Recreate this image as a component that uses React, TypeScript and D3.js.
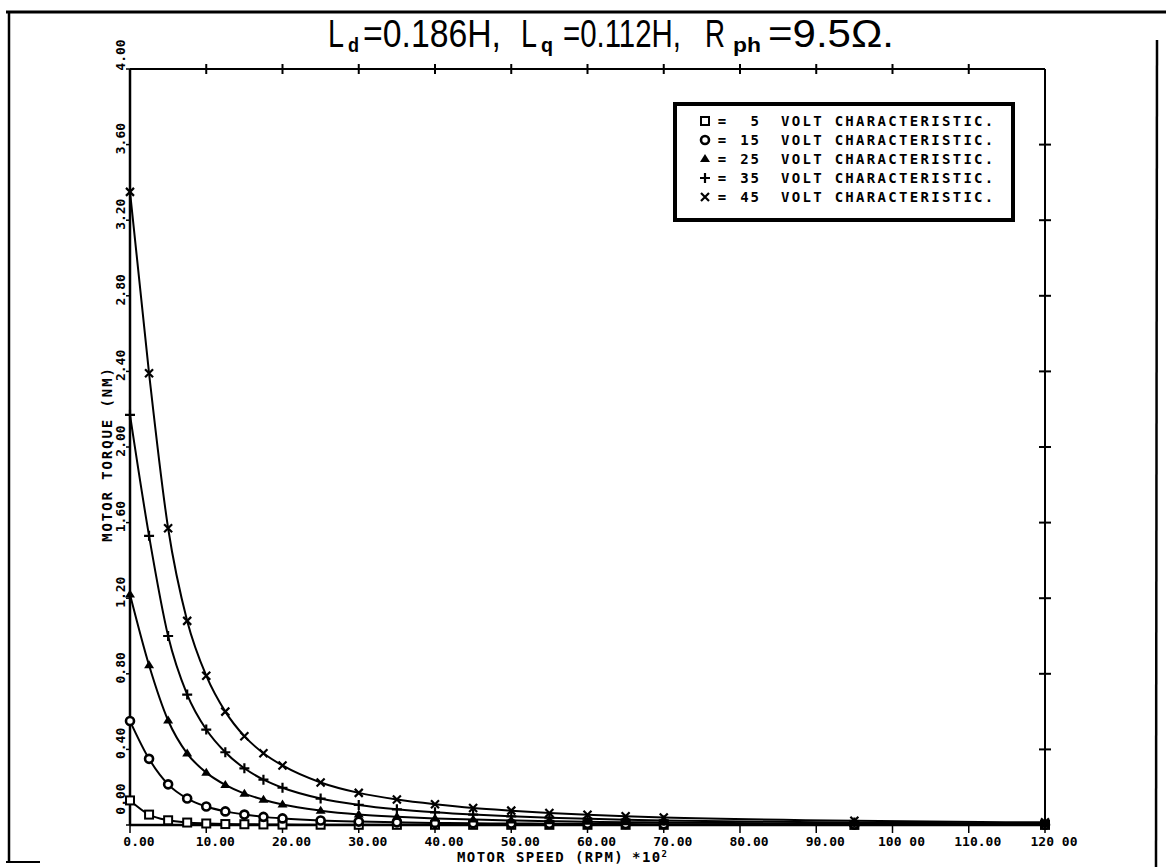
import React from "react";
import * as d3 from "d3";

// motor speed (RPM x 10^2) at each plotted point
const speeds = [0, 2.5, 5, 7.5, 10, 12.5, 15, 17.5, 20, 25, 30, 35, 40, 45, 50, 55, 60, 65, 70, 95, 120];

// motor torque (NM), one array per supply voltage
const torque5V = [0.13, 0.055, 0.025, 0.013, 0.008, 0.005, 0.004, 0.003, 0.002, 0.0015, 0.001, 0.001, 0.001, 0.001, 0.001, 0.001, 0.001, 0.001, 0.001, 0.0005, 0.0005];
const torque15V = [0.55, 0.35, 0.215, 0.14, 0.098, 0.072, 0.055, 0.043, 0.035, 0.024, 0.018, 0.014, 0.011, 0.009, 0.008, 0.007, 0.006, 0.005, 0.004, 0.002, 0.001];
const torque25V = [1.22, 0.845, 0.553, 0.378, 0.277, 0.212, 0.166, 0.134, 0.108, 0.076, 0.056, 0.044, 0.035, 0.029, 0.024, 0.02, 0.017, 0.015, 0.013, 0.007, 0.005];
const torque35V = [2.17, 1.53, 1.0, 0.69, 0.505, 0.385, 0.3, 0.24, 0.197, 0.14, 0.106, 0.083, 0.067, 0.055, 0.046, 0.039, 0.033, 0.028, 0.024, 0.013, 0.008];
const torque45V = [3.35, 2.39, 1.57, 1.08, 0.79, 0.6, 0.47, 0.38, 0.315, 0.225, 0.17, 0.135, 0.11, 0.09, 0.076, 0.064, 0.054, 0.046, 0.04, 0.022, 0.014];

const voltages = ["5", "15", "25", "35", "45"];
const symbols = ["square", "circle", "triangle", "plus", "cross"];

const xTicks = [0, 10, 20, 30, 40, 50, 60, 70, 80, 90, 100, 110, 120];
const xTickLabels = ["0.00", "10.00", "20.00", "30.00", "40.00", "50.00", "60.00", "70.00", "80.00", "90.00", "100 00", "110.00", "120 00"];
const yTicks = [0, 0.4, 0.8, 1.2, 1.6, 2.0, 2.4, 2.8, 3.2, 3.6, 4.0];

const W = 1166;
const H = 867;
const left = 130, right = 1045, top = 69, bottom = 825;
const plotFont = "'DejaVu Sans Mono', monospace";
const titleFont = "'Liberation Sans', Arial, sans-serif";

// title pieces: [text, x start, width, subscript?, horizontal squeeze]
const titleParts: [string, number, number, boolean, number][] = [
  ["L", 328, 16, false, 0.76],
  ["d", 348, 11, true, 1],
  ["=0.186H,", 363, 138, false, 0.9],
  ["L", 521, 16, false, 0.76],
  ["q", 541, 12, true, 1],
  ["=0.112H,", 563, 118, false, 0.76],
  ["R", 705, 20, false, 0.74],
  ["ph", 733, 28, true, 1],
  ["=9.5Ω.", 768, 126, false, 1],
];

function Marker({ kind, x, y }: { kind: string; x: number; y: number }) {
  const s = 4;
  if (kind === "square")
    return <rect x={x - s} y={y - s} width={2 * s} height={2 * s} fill="white" stroke="black" strokeWidth={2} />;
  if (kind === "circle")
    return <circle cx={x} cy={y} r={s} fill="white" stroke="black" strokeWidth={2.6} />;
  if (kind === "triangle")
    return <path d={`M${x},${y - s - 1}L${x + s + 1},${y + s - 1}L${x - s - 1},${y + s - 1}Z`} fill="black" />;
  if (kind === "plus")
    return <path d={`M${x - s - 1},${y}H${x + s + 1}M${x},${y - s - 1}V${y + s + 1}`} stroke="black" strokeWidth={2.2} />;
  return <path d={`M${x - s},${y - s}L${x + s},${y + s}M${x + s},${y - s}L${x - s},${y + s}`} stroke="black" strokeWidth={2.2} />;
}

export default function App() {
  const x = d3.scaleLinear().domain([0, 120]).range([left, right]);
  const y = d3.scaleLinear().domain([0, 4]).range([bottom, top]);
  const series = [torque5V, torque15V, torque25V, torque35V, torque45V];

  const line = d3
    .line<number>()
    .x((_, i) => x(speeds[i]))
    .y((v) => y(v))
    .curve(d3.curveMonotoneX);

  return (
    <svg width={W} height={H} style={{ position: "absolute", left: 0, top: 0 }}>
      <rect width={W} height={H} fill="white" />

      {/* page frame */}
      <line x1={6} x2={W} y1={12} y2={12} stroke="black" strokeWidth={3} />
      <line x1={9} x2={9} y1={11} y2={862} stroke="black" strokeWidth={2.5} />
      <line x1={1157} x2={1156} y1={40} y2={H} stroke="black" strokeWidth={2.5} />
      <line x1={6} x2={40} y1={862} y2={862} stroke="black" strokeWidth={2} />

      {/* title */}
      {titleParts.map(([t, tx, tw, sub, sq], i) => (
        <text
          key={"tt" + i}
          transform={`translate(${tx},${sub ? 52 : 47}) scale(${sq},1)`}
          fontFamily={titleFont}
          fontSize={sub ? 20 : 38}
          fontWeight={sub ? "bold" : "normal"}
          textLength={tw / sq}
          lengthAdjust="spacingAndGlyphs"
        >
          {t}
        </text>
      ))}

      {/* axes box */}
      <line x1={left} x2={left} y1={top} y2={bottom} stroke="black" strokeWidth={2.5} />
      <line x1={left} x2={right} y1={bottom} y2={bottom} stroke="black" strokeWidth={2.5} />
      <line x1={left} x2={right} y1={top} y2={top} stroke="black" strokeWidth={2} />
      <line x1={right} x2={right} y1={top} y2={bottom} stroke="black" strokeWidth={2} />

      {xTicks.map((t, i) => (
        <g key={"xt" + t}>
          <line x1={x(t)} x2={x(t)} y1={bottom} y2={bottom + 8} stroke="black" strokeWidth={1.5} />
          {t > 0 && t < 120 && (
            <line x1={x(t)} x2={x(t)} y1={top - 5} y2={top + 5} stroke="black" strokeWidth={2} />
          )}
          <text x={x(t) + 9} y={846} textAnchor="middle" fontFamily={plotFont} fontWeight="bold" fontSize={13}>
            {xTickLabels[i]}
          </text>
        </g>
      ))}

      {yTicks.map((t) => (
        <g key={"yt" + t}>
          <line x1={left - 4} x2={left} y1={y(t)} y2={y(t)} stroke="black" strokeWidth={1.5} />
          {t > 0 && t < 4 && (
            <line x1={right - 6} x2={right + 6} y1={y(t)} y2={y(t)} stroke="black" strokeWidth={2} />
          )}
          <text
            transform={`translate(120,${t === 0 ? y(t) - 26 : t === 4 ? y(t) - 14 : y(t) - 6}) rotate(-90)`}
            textAnchor="middle"
            dominantBaseline="central"
            fontFamily={plotFont}
            fontWeight="bold"
            fontSize={13}
          >
            {t.toFixed(2)}
          </text>
        </g>
      ))}

      {/* axis titles */}
      <text x={457} y={862} fontFamily={plotFont} fontWeight="bold" fontSize={14} letterSpacing={1.4}>
        MOTOR SPEED (RPM)
        <tspan dx={8}>*10</tspan>
        <tspan fontSize={9} dy={-5}>2</tspan>
      </text>
      <text
        transform="translate(107,454) rotate(-90)"
        textAnchor="middle"
        dominantBaseline="central"
        fontFamily={plotFont}
        fontWeight="bold"
        fontSize={14}
        letterSpacing={1.9}
      >
        MOTOR TORQUE (NM)
      </text>

      {/* curves */}
      {series.map((s, k) => (
        <g key={"s" + k}>
          <path d={line(s) || ""} fill="none" stroke="black" strokeWidth={2} />
          {s.map((v, i) => (
            <Marker key={i} kind={symbols[k]} x={x(speeds[i])} y={y(v)} />
          ))}
        </g>
      ))}

      {/* legend */}
      <rect x={675} y={104} width={338} height={116} fill="white" stroke="black" strokeWidth={4} />
      {voltages.map((v, k) => {
        const cy = 121 + k * 19;
        return (
          <g key={"lg" + v}>
            <Marker kind={symbols[k]} x={705} y={cy} />
            <text x={722} y={cy} textAnchor="middle" dominantBaseline="central" fontFamily={plotFont} fontWeight="bold" fontSize={14}>
              =
            </text>
            <text x={761} y={cy} textAnchor="end" dominantBaseline="central" fontFamily={plotFont} fontWeight="bold" fontSize={14} letterSpacing={2}>
              {v}
            </text>
            <text x={781} y={cy} dominantBaseline="central" fontFamily={plotFont} fontWeight="bold" fontSize={14} letterSpacing={2.3}>
              VOLT CHARACTERISTIC.
            </text>
          </g>
        );
      })}
    </svg>
  );
}
